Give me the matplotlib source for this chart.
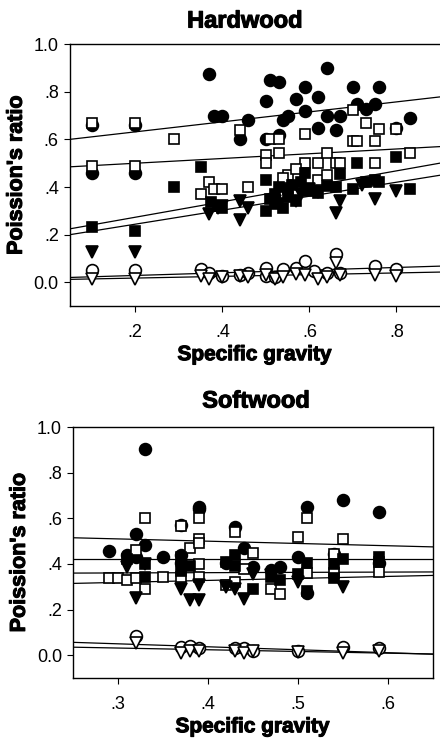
import numpy as np
import matplotlib
matplotlib.use('Agg')
import matplotlib.pyplot as plt
import matplotlib.patheffects as pe
from matplotlib.ticker import FuncFormatter

plt.rcParams['font.family'] = ['Liberation Sans', 'DejaVu Sans']

# Hardwood data (specific gravity, Poisson's ratio)
hw_fc_x = [0.10, 0.10, 0.20, 0.20, 0.37, 0.38, 0.40, 0.46, 0.44, 0.50, 0.51, 0.53, 0.50, 0.54, 0.55, 0.57,
           0.59, 0.59, 0.62, 0.62, 0.64, 0.64, 0.66, 0.67, 0.70, 0.71, 0.73, 0.75, 0.76, 0.83, 0.80, 0.53]
hw_fc_y = [0.66, 0.46, 0.66, 0.46, 0.877, 0.70, 0.70, 0.68, 0.60, 0.76, 0.85, 0.84, 0.60, 0.68, 0.70, 0.77,
           0.82, 0.72, 0.78, 0.65, 0.90, 0.70, 0.64, 0.70, 0.82, 0.75, 0.73, 0.75, 0.82, 0.69, 0.65, 0.62]
hw_os_x = [0.10, 0.10, 0.20, 0.20, 0.29, 0.44, 0.50, 0.50, 0.51, 0.53, 0.59, 0.59, 0.62, 0.64, 0.66, 0.67,
           0.70, 0.70, 0.71, 0.73, 0.76, 0.75, 0.75, 0.80, 0.83, 0.35, 0.37, 0.38, 0.40, 0.46, 0.54, 0.55,
           0.57, 0.62, 0.64, 0.53, 0.54]
hw_os_y = [0.67, 0.49, 0.67, 0.49, 0.60, 0.64, 0.535, 0.50, 0.60, 0.545, 0.625, 0.50, 0.50, 0.545, 0.50, 0.50,
           0.725, 0.595, 0.595, 0.67, 0.645, 0.595, 0.50, 0.645, 0.545, 0.37, 0.42, 0.39, 0.39, 0.40, 0.405, 0.45,
           0.475, 0.43, 0.45, 0.60, 0.44]
hw_fs_x = [0.10, 0.20, 0.29, 0.35, 0.375, 0.39, 0.40, 0.50, 0.50, 0.51, 0.52, 0.53, 0.54, 0.55, 0.57, 0.59,
           0.60, 0.62, 0.64, 0.67, 0.70, 0.71, 0.73, 0.75, 0.76, 0.80, 0.83, 0.52, 0.55, 0.58, 0.66, 0.56]
hw_fs_y = [0.23, 0.215, 0.40, 0.485, 0.335, 0.32, 0.31, 0.43, 0.30, 0.35, 0.37, 0.40, 0.31, 0.39, 0.34, 0.46,
           0.385, 0.375, 0.405, 0.455, 0.39, 0.50, 0.42, 0.43, 0.42, 0.525, 0.39, 0.33, 0.36, 0.42, 0.40, 0.41]
hw_ft_x = [0.10, 0.20, 0.37, 0.39, 0.44, 0.46, 0.52, 0.57, 0.66, 0.67, 0.75, 0.80, 0.58, 0.62, 0.44, 0.40,
           0.53, 0.60, 0.72]
hw_ft_y = [0.125, 0.125, 0.285, 0.31, 0.26, 0.31, 0.34, 0.34, 0.29, 0.34, 0.35, 0.385, 0.37, 0.38, 0.34, 0.32,
           0.33, 0.39, 0.41]
hw_oc_x = [0.10, 0.20, 0.35, 0.37, 0.40, 0.44, 0.46, 0.50, 0.50, 0.52, 0.54, 0.57, 0.59, 0.61, 0.64, 0.66,
           0.67, 0.75, 0.80]
hw_oc_y = [0.05, 0.05, 0.055, 0.04, 0.025, 0.03, 0.04, 0.06, 0.025, 0.02, 0.055, 0.06, 0.09, 0.045, 0.04, 0.12,
           0.04, 0.07, 0.055]
hw_ot_x = [0.10, 0.20, 0.35, 0.37, 0.40, 0.44, 0.46, 0.50, 0.52, 0.54, 0.57, 0.59, 0.62, 0.64, 0.66, 0.67,
           0.75, 0.80]
hw_ot_y = [0.015, 0.015, 0.025, 0.015, 0.02, 0.025, 0.02, 0.03, 0.015, 0.02, 0.035, 0.03, 0.015, 0.02, 0.08,
           0.03, 0.03, 0.025]

# Softwood data
sw_fc_x = [0.29, 0.31, 0.32, 0.33, 0.33, 0.32, 0.35, 0.37, 0.37, 0.37, 0.39, 0.39, 0.43, 0.42, 0.44, 0.45,
           0.47, 0.48, 0.51, 0.50, 0.55, 0.54, 0.59, 0.59, 0.51]
sw_fc_y = [0.455, 0.44, 0.53, 0.905, 0.485, 0.43, 0.43, 0.44, 0.405, 0.57, 0.65, 0.64, 0.56, 0.405, 0.47, 0.385,
           0.375, 0.385, 0.65, 0.43, 0.68, 0.445, 0.63, 0.405, 0.275]
sw_os_x = [0.29, 0.30, 0.31, 0.32, 0.33, 0.32, 0.33, 0.35, 0.37, 0.38, 0.39, 0.39, 0.39, 0.39, 0.39, 0.37,
           0.43, 0.42, 0.43, 0.44, 0.45, 0.47, 0.48, 0.50, 0.51, 0.51, 0.55, 0.54, 0.54, 0.59]
sw_os_y = [0.34, 0.34, 0.33, 0.46, 0.60, 0.34, 0.29, 0.345, 0.565, 0.47, 0.60, 0.51, 0.49, 0.40, 0.345, 0.345,
           0.54, 0.31, 0.32, 0.38, 0.45, 0.29, 0.27, 0.52, 0.60, 0.36, 0.51, 0.445, 0.36, 0.365]
sw_fs_x = [0.31, 0.33, 0.33, 0.37, 0.38, 0.37, 0.42, 0.43, 0.43, 0.45, 0.47, 0.48, 0.51, 0.51, 0.50, 0.54,
           0.55, 0.54, 0.59, 0.59]
sw_fs_y = [0.42, 0.345, 0.40, 0.43, 0.39, 0.37, 0.41, 0.44, 0.39, 0.29, 0.345, 0.33, 0.405, 0.28, 0.355, 0.40,
           0.42, 0.34, 0.43, 0.41]
sw_ft_x = [0.31, 0.32, 0.33, 0.37, 0.38, 0.39, 0.42, 0.43, 0.44, 0.45, 0.50, 0.55, 0.47, 0.39]
sw_ft_y = [0.385, 0.25, 0.40, 0.29, 0.24, 0.24, 0.30, 0.29, 0.245, 0.355, 0.32, 0.30, 0.35, 0.31]
sw_oc_x = [0.32, 0.37, 0.38, 0.39, 0.43, 0.44, 0.45, 0.50, 0.55, 0.59]
sw_oc_y = [0.083, 0.035, 0.04, 0.03, 0.03, 0.03, 0.02, 0.02, 0.035, 0.03]
sw_ot_x = [0.32, 0.37, 0.38, 0.39, 0.43, 0.44, 0.45, 0.50, 0.55, 0.59]
sw_ot_y = [0.055, 0.01, 0.02, 0.02, 0.02, 0.01, 0.02, 0.015, 0.01, 0.02]

# regression lines: (intercept, slope), same order as series
hw_fits = [(0.59, 0.21), (0.48, 0.10), (0.208, 0.325), (0.185, 0.294), (0.017, 0.056), (0.010, 0.036)]
sw_fits = [(0.54, -0.10), (0.42, 0.0), (0.357, 0.0125), (0.293, 0.0875), (0.089, -0.13), (0.054, -0.075)]

y_ticks = [0.0, 0.2, 0.4, 0.6, 0.8, 1.0]
hw_x_ticks = [0.2, 0.4, 0.6, 0.8]
sw_x_ticks = [0.3, 0.4, 0.5, 0.6]

# marker styles: filled circle, open square, filled square, filled triangle, open circle, open triangle
styles = [('o', 'black', 8.5), ('s', 'white', 7.3), ('s', 'black', 7.3),
          ('v', 'black', 8), ('o', 'white', 8.5), ('v', 'white', 8)]

heavy = [pe.withStroke(linewidth=0.8, foreground='black')]


def fmt_tick(v, pos):
    if abs(v) < 1e-9:
        return '0.0'
    if abs(v - 1.0) < 1e-9:
        return '1.0'
    s = '%.1f' % v
    return s.lstrip('0')


def draw_panel(ax, series, fits, xlim, xticks):
    for (x, y), (m, fc, ms) in zip(series, styles):
        ax.plot(x, y, linestyle='none', marker=m, markerfacecolor=fc, markeredgecolor='black',
                markeredgewidth=1.2, markersize=ms, zorder=3)
    xs = np.array(xlim)
    for b, k in fits:
        ax.plot(xs, b + k * xs, color='black', linewidth=0.9, zorder=2)
    ax.set_xlim(xlim)
    ax.set_ylim(-0.1, 1.0)
    ax.set_xticks(xticks)
    ax.set_yticks(y_ticks)
    ax.xaxis.set_major_formatter(FuncFormatter(fmt_tick))
    ax.yaxis.set_major_formatter(FuncFormatter(fmt_tick))
    ax.tick_params(axis='both', labelsize=13, length=4, width=0.8, direction='out')
    ax.tick_params(axis='x', pad=9)
    ax.tick_params(axis='y', pad=4)
    for sp in ax.spines.values():
        sp.set_linewidth(1.0)
    ax.set_ylabel("Poission's ratio", fontsize=15.5, fontweight='bold', labelpad=5, path_effects=heavy)
    ax.set_xlabel('Specific gravity', fontsize=15, fontweight='bold', labelpad=3, path_effects=heavy)


fig = plt.figure(figsize=(4.4, 7.39), dpi=100)

ax1 = fig.add_axes([0.159, 0.586, 0.841, 0.354])
hw_series = [(hw_fc_x, hw_fc_y), (hw_os_x, hw_os_y), (hw_fs_x, hw_fs_y),
             (hw_ft_x, hw_ft_y), (hw_oc_x, hw_oc_y), (hw_ot_x, hw_ot_y)]
draw_panel(ax1, hw_series, hw_fits, (0.05, 0.9), hw_x_ticks)
ax1.spines['right'].set_visible(False)
fig.text(245 / 440, 1 - 21 / 739, 'Hardwood', ha='center', va='center', fontsize=17,
         fontweight='bold', path_effects=heavy)

ax2 = fig.add_axes([0.166, 0.0825, 0.818, 0.3395])
sw_series = [(sw_fc_x, sw_fc_y), (sw_os_x, sw_os_y), (sw_fs_x, sw_fs_y),
             (sw_ft_x, sw_ft_y), (sw_oc_x, sw_oc_y), (sw_ot_x, sw_ot_y)]
draw_panel(ax2, sw_series, sw_fits, (0.25, 0.65), sw_x_ticks)
fig.text(256 / 440, 1 - 401 / 739, 'Softwood', ha='center', va='center', fontsize=17,
         fontweight='bold', path_effects=heavy)

fig.savefig('out.png', dpi=100)
